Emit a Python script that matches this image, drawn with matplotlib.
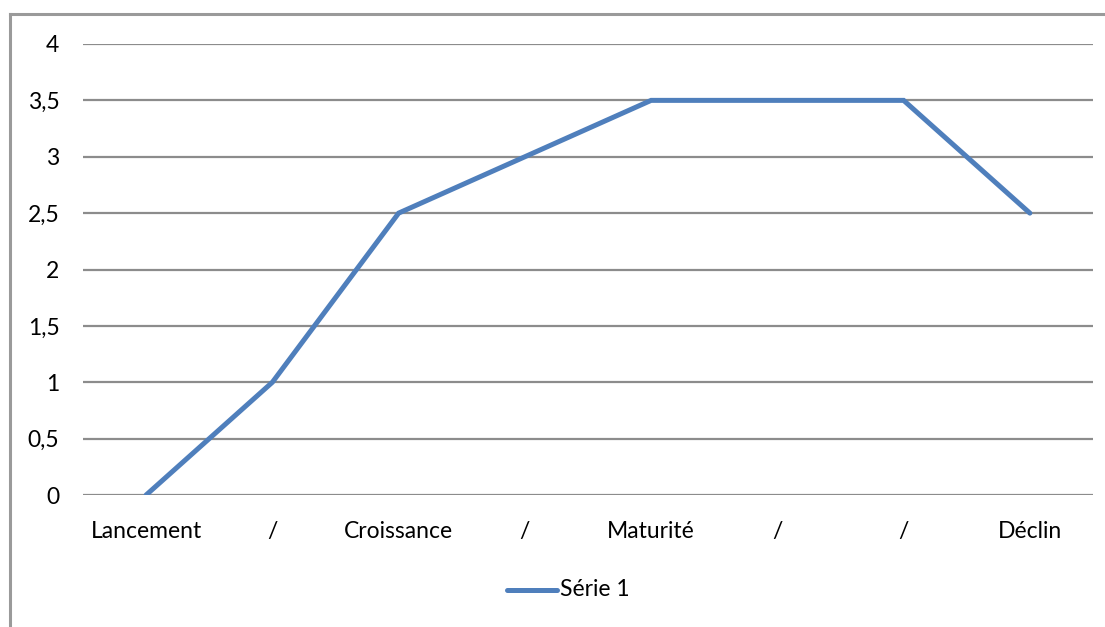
import matplotlib
matplotlib.use("Agg")
import matplotlib.pyplot as plt
from matplotlib.lines import Line2D

categories = ["Lancement", "/", "Croissance", "/", "Maturité", "/", "/", "Déclin"]
values = [0, 1, 2.5, 3, 3.5, 3.5, 3.5, 2.5]
yticks = [0, 0.5, 1, 1.5, 2, 2.5, 3, 3.5, 4]
ytick_labels = ["0", "0,5", "1", "1,5", "2", "2,5", "3", "3,5", "4"]
series_name = "Série 1"

plt.rcParams["font.family"] = ["Lato", "DejaVu Sans"]

W, H = 1105, 627
fig = plt.figure(figsize=(W / 100, H / 100), dpi=100)
fig.patch.set_facecolor("white")

# outer chart frame (left and top edges visible)
fig.add_artist(Line2D([10 / W, 10 / W], [0, 1 - 14 / H], color="#9a9a9a", lw=2.2,
                      transform=fig.transFigure))
fig.add_artist(Line2D([10 / W, 1], [1 - 14 / H, 1 - 14 / H], color="#9a9a9a", lw=2.2,
                      transform=fig.transFigure))

x0, x1 = 83, 1093
y0, y1 = 495, 44
ax = fig.add_axes([x0 / W, 1 - y0 / H, (x1 - x0) / W, (y0 - y1) / H])
ax.set_facecolor("none")

xs = list(range(len(categories)))
line_color = "#4F7FBC"
ax.plot(xs, values, color=line_color, lw=3.6, solid_capstyle="round",
        solid_joinstyle="miter", zorder=3)

ax.set_xlim(-0.5, len(categories) - 0.5)
ax.set_ylim(0, 4)
ax.set_yticks(yticks)
ax.set_yticklabels(ytick_labels)
ax.set_xticks(xs)
ax.set_xticklabels(categories)

for y in yticks:
    ax.axhline(y, color="#8c8c8c", lw=1.6, zorder=1)

for s in ax.spines.values():
    s.set_visible(False)
fs = 16.5
ax.tick_params(axis="both", length=0, labelsize=fs, colors="#000000")
ax.tick_params(axis="y", pad=17)
ax.tick_params(axis="x", pad=19)

# legend
fig.add_artist(Line2D([507 / W, 557 / W], [1 - 590 / H, 1 - 590 / H], color=line_color,
                      lw=3.6, solid_capstyle="round", transform=fig.transFigure))
fig.text(560 / W, 1 - 590 / H, series_name, fontsize=fs, va="center", ha="left")

fig.savefig("out.png", dpi=100, facecolor="white")
